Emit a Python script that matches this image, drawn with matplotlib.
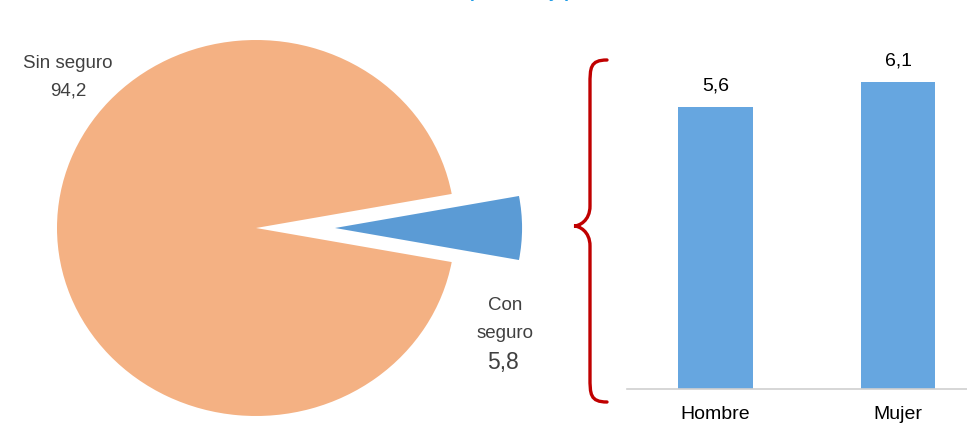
import matplotlib
matplotlib.use("Agg")
import matplotlib.pyplot as plt
from matplotlib.path import Path
from matplotlib.patches import PathPatch

plt.rcParams['font.family'] = ['Liberation Sans', 'DejaVu Sans']

# Data
pie_labels = ["Con", "seguro", "Sin seguro"]
pie_values = [5.8, 94.2]
pie_value_labels = ["5,8", "94,2"]
bar_categories = ["Hombre", "Mujer"]
bar_values = [5.6, 6.1]
bar_value_labels = ["5,6", "6,1"]
title_text = "(Porcentaje)"

W, H = 967, 428
fig = plt.figure(figsize=(W / 100, H / 100), dpi=100)

# ---- Pie (slightly elliptical as in reference) ----
RX, RY = 199.0, 188.0  # px per unit
cx, cy = 256, 228
pw = 560
axp = fig.add_axes([0, 0, pw / W, 1])
wedges, _ = axp.pie(pie_values, colors=["#5B9BD5", "#F4B183"], explode=[0.397, 0],
                    startangle=-pie_values[0] / 100 * 360 / 2, counterclock=True,
                    radius=1, wedgeprops=dict(linewidth=0))
wedges[0].set_radius(0.94)
axp.set_aspect('auto')
axp.set_xlim(-cx / RX, (pw - cx) / RX)
axp.set_ylim(-(H - cy) / RY, cy / RY)
axp.axis('off')

def px(x, y):
    return ((x - cx) / RX, (cy - y) / RY)

tc = '#404040'
tx, ty = px(68, 64)
axp.text(tx, ty, pie_labels[2], ha='center', va='center', fontsize=13.5, color=tc)
tx, ty = px(68, 91)
axp.text(tx, ty, pie_value_labels[1], ha='center', va='center', fontsize=13.5, color=tc)
tx, ty = px(505, 305)
axp.text(tx, ty, pie_labels[0], ha='center', va='center', fontsize=13.5, color=tc)
tx, ty = px(505, 333)
axp.text(tx, ty, pie_labels[1], ha='center', va='center', fontsize=13.5, color=tc)
tx, ty = px(503, 362)
axp.text(tx, ty, pie_value_labels[0], ha='center', va='center', fontsize=16.5, color=tc)

# ---- Bars ----
left, right, bottom = 627, 967, 389
ytop_val = 6.6
ppu = 50.3
top = bottom - ytop_val * ppu
axb = fig.add_axes([left / W, (H - bottom) / H, (right - left) / W, (bottom - top) / H])
xs = list(range(len(bar_categories)))
axb.bar(xs, bar_values, width=0.41, color="#66A6E0")
axb.set_xlim(-0.485, 1.378)
axb.set_ylim(0, ytop_val)
for s in ['top', 'right', 'left']:
    axb.spines[s].set_visible(False)
axb.spines['bottom'].set_color('#D0D0D0')
axb.spines['bottom'].set_linewidth(1.2)
axb.set_yticks([])
axb.set_xticks(xs)
axb.set_xticklabels(bar_categories, fontsize=14, color='black')
axb.tick_params(axis='x', length=0, pad=12)
for x, v, lab in zip(xs, bar_values, bar_value_labels):
    axb.text(x, v + 0.25, lab, ha='center', va='bottom', fontsize=14, color='black')

# ---- Curly brace (figure pixel coords) ----
def fpt(x, y):
    return (x / W, (H - y) / H)

bx0, bx1, mx = 574, 607, 590
yt, ym, yb = 60, 226, 402
verts = [fpt(bx1, yt),
         fpt(mx, yt), fpt(mx, yt + 8), fpt(mx, yt + 25),
         fpt(mx, ym - 20),
         fpt(mx, ym - 5), fpt(bx0 + 5, ym), fpt(bx0, ym),
         fpt(bx0 + 5, ym), fpt(mx, ym + 5), fpt(mx, ym + 20),
         fpt(mx, yb - 25),
         fpt(mx, yb - 8), fpt(mx, yb), fpt(bx1, yb)]
codes = [Path.MOVETO,
         Path.CURVE4, Path.CURVE4, Path.CURVE4,
         Path.LINETO,
         Path.CURVE4, Path.CURVE4, Path.CURVE4,
         Path.CURVE4, Path.CURVE4, Path.CURVE4,
         Path.LINETO,
         Path.CURVE4, Path.CURVE4, Path.CURVE4]
brace = PathPatch(Path(verts, codes), transform=fig.transFigure, fill=False,
                  edgecolor='#C00000', linewidth=2.4, capstyle='round')
fig.add_artist(brace)

# ---- Title, cut off at the top edge as in the reference ----
fig.text(519 / W, 1 + 3 / H, title_text, ha='center', va='baseline',
         fontsize=13, fontweight='bold', color='#1E9BE6')

fig.savefig("out.png", dpi=100)
